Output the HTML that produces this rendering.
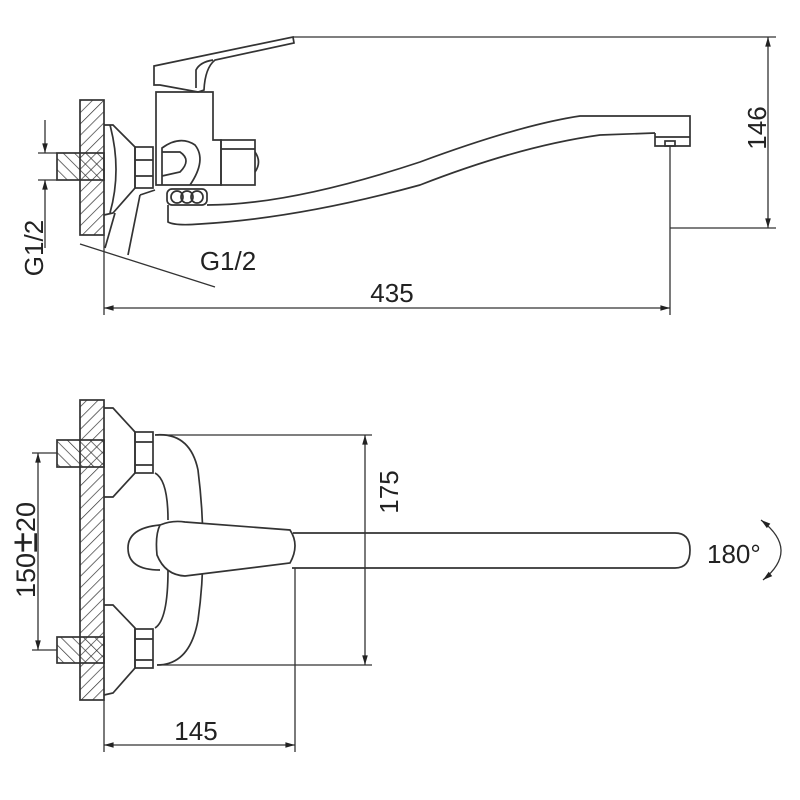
<!DOCTYPE html>
<html><head><style>
html,body{margin:0;padding:0;background:#fff;}
svg{display:block}
text{font-family:"Liberation Sans",sans-serif;fill:#222;}
</style></head><body>
<svg width="800" height="800" viewBox="0 0 800 800" xmlns="http://www.w3.org/2000/svg">
<defs>
<pattern id="h" width="8" height="8" patternUnits="userSpaceOnUse" patternTransform="rotate(45)">
<line x1="0" y1="0" x2="0" y2="8" stroke="#333" stroke-width="1.4"/>
</pattern>
<pattern id="h2" width="8" height="8" patternUnits="userSpaceOnUse" patternTransform="rotate(-45)">
<line x1="0" y1="0" x2="0" y2="8" stroke="#333" stroke-width="1.4"/>
</pattern>
<marker id="a" viewBox="0 0 12 10" refX="12" refY="5" markerWidth="13" markerHeight="8" orient="auto-start-reverse" markerUnits="userSpaceOnUse">
<path d="M0,1.5 L12,5 L0,8.5z" fill="#222"/></marker>
</defs>
<g fill="none" stroke="#333" stroke-width="1.7">
<!-- TOP VIEW -->
<rect x="80" y="100" width="24" height="135" fill="url(#h)"/>
<rect x="57" y="153" width="47" height="27" fill="url(#h2)"/>
<path d="M104,125 L113,125 L135,147 L135,188 L113,213 L104,215"/>
<path d="M110,125 Q122,170 110,213"/>
<rect x="135" y="147" width="18" height="41"/>
<line x1="135" y1="160" x2="153" y2="160"/><line x1="135" y1="176" x2="153" y2="176"/>
<path d="M115,213 L105,248 M140,195 L128,255 M155,190 L140,195"/>
<!-- body -->
<path d="M156,92 L213,92 L213,140 L221,140 L221,185 L156,185 Z"/>
<path d="M162,185 L162,148 Q180,135 195,145 Q207,160 190,185"/>
<path d="M162,176 L180,172 Q192,160 180,152 L162,152"/>
<rect x="221" y="140" width="34" height="45"/>
<line x1="221" y1="149" x2="255" y2="149"/>
<path d="M255,152 Q262,162 255,172"/>
<!-- lever -->
<path d="M154,66 L293,37 L294,43 L215,60 Q205,68 204,90 L198,92 L160,85 L154,85 Z"/>
<path d="M196,88 L196,70 Q200,62 213,60"/>
<!-- nut balls -->
<rect x="167" y="189" width="40" height="16" rx="5"/>
<circle cx="177" cy="197" r="6"/><circle cx="187" cy="197" r="6"/><circle cx="197" cy="197" r="6"/>
<!-- spout -->
<path d="M168,205 L168,222 Q175,226 200,224 Q300,218 420,185 Q520,146 600,135 L655,133"/>
<path d="M207,205 Q290,205 420,162 Q520,125 580,116 L690,116 L690,146 L655,146 L655,133"/>
<line x1="655" y1="137" x2="690" y2="137"/>
<rect x="665" y="141" width="10" height="5"/>
<!-- dims top -->
<line x1="293" y1="37" x2="776" y2="37" stroke-width="1.3"/>
<line x1="670" y1="228" x2="776" y2="228" stroke-width="1.3"/>
<line x1="768" y1="37" x2="768" y2="228" stroke-width="1.3" marker-start="url(#a)" marker-end="url(#a)"/>
<line x1="670" y1="146" x2="670" y2="315" stroke-width="1.3"/>
<line x1="104" y1="235" x2="104" y2="315" stroke-width="1.3"/>
<line x1="104" y1="308" x2="670" y2="308" stroke-width="1.3" marker-start="url(#a)" marker-end="url(#a)"/>
<line x1="45" y1="120" x2="45" y2="153" stroke-width="1.3" marker-end="url(#a)"/>
<line x1="45" y1="180" x2="45" y2="248" stroke-width="1.3" marker-start="url(#a)"/>
<line x1="38" y1="153" x2="57" y2="153" stroke-width="1.3"/>
<line x1="38" y1="180" x2="57" y2="180" stroke-width="1.3"/>
<line x1="80" y1="244" x2="215" y2="287" stroke-width="1.3"/>

<!-- BOTTOM VIEW -->
<rect x="80" y="400" width="24" height="300" fill="url(#h)"/>
<rect x="57" y="440" width="47" height="27" fill="url(#h2)"/>
<rect x="57" y="637" width="47" height="26" fill="url(#h2)"/>
<path d="M104,408 L113,408 L135,432 L135,473 L113,497 L104,497"/>
<path d="M104,605 L113,605 L135,628 L135,668 L113,693 L104,695"/>
<rect x="135" y="432" width="18" height="41"/><line x1="135" y1="442" x2="153" y2="442"/><line x1="135" y1="465" x2="153" y2="465"/>
<rect x="135" y="629" width="18" height="39"/><line x1="135" y1="639" x2="153" y2="639"/><line x1="135" y1="660" x2="153" y2="660"/>
<path d="M155,435 Q190,432 198,470 Q208,550 198,620 Q190,665 157,665"/>
<path d="M155,473 Q168,480 168,520 M168,570 Q168,620 155,628"/>
<path d="M160,525 Q128,528 128,548 Q128,570 160,570"/>
<path d="M160,525 Q172,520 185,522 L290,530 Q300,545 290,563 L185,576 Q165,575 157,555 Q155,535 160,525 Z" fill="#fff"/>
<path d="M293,533 L675,533 Q690,533 690,550 Q690,568 675,568 L292,568"/>
<!-- dims bottom -->
<line x1="157" y1="435" x2="372" y2="435" stroke-width="1.3"/>
<line x1="157" y1="665" x2="372" y2="665" stroke-width="1.3"/>
<line x1="365" y1="435" x2="365" y2="665" stroke-width="1.3" marker-start="url(#a)" marker-end="url(#a)"/>
<line x1="32" y1="453" x2="57" y2="453" stroke-width="1.3"/>
<line x1="32" y1="650" x2="57" y2="650" stroke-width="1.3"/>
<line x1="38" y1="453" x2="38" y2="650" stroke-width="1.3" marker-start="url(#a)" marker-end="url(#a)"/>
<line x1="104" y1="700" x2="104" y2="752" stroke-width="1.3"/>
<line x1="295" y1="568" x2="295" y2="752" stroke-width="1.3"/>
<line x1="104" y1="745" x2="295" y2="745" stroke-width="1.3" marker-start="url(#a)" marker-end="url(#a)"/>
<path d="M761,520 Q800,550 763,580" stroke-width="1.3" marker-start="url(#a)" marker-end="url(#a)"/>
</g>
<g font-size="26">
<text x="392" y="302" text-anchor="middle">435</text>
<text x="228" y="270" text-anchor="middle">G1/2</text>
<text transform="translate(766,128) rotate(-90)" text-anchor="middle">146</text>
<text transform="translate(43,248) rotate(-90)" text-anchor="middle">G1/2</text>
<text transform="translate(398,492) rotate(-90)" text-anchor="middle">175</text>
<text transform="translate(35,550) rotate(-90)" text-anchor="middle" font-size="27">150<tspan font-size="38" dy="2">±</tspan><tspan dy="-2">20</tspan></text>
<text x="196" y="740" text-anchor="middle">145</text>
<text x="707" y="563">180°</text>
</g>
</svg>
</body></html>
